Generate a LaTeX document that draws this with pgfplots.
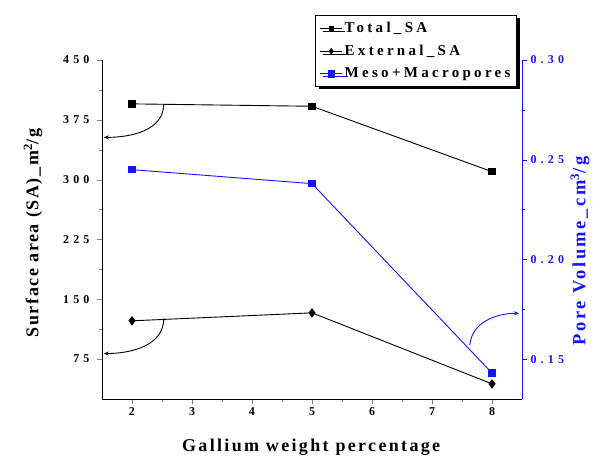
\documentclass[border=0pt]{standalone}
\usepackage{pgfplots}
\pgfplotsset{compat=1.18}
\usepackage{fontspec}
\setmainfont{Liberation Serif}
\newfontfamily\tickfont[LetterSpace=35]{Liberation Serif}
\newfontfamily\xlabelfont[LetterSpace=13]{Liberation Serif}
\newfontfamily\ylabelfont[LetterSpace=9]{Liberation Serif}
\newfontfamily\rlabelfont[LetterSpace=14]{Liberation Serif}
\newfontfamily\legendfont[LetterSpace=22]{Liberation Serif}
\usetikzlibrary{arrows.meta,shadows}

\definecolor{poreblue}{RGB}{20,20,255}

\pgfplotsset{
  common/.style={
    scale only axis,
    width=420pt, height=339pt,
    xmin=1.5, xmax=8.5,
    clip=false,
    tick align=outside,
    major tick length=5pt,
    minor tick length=3pt,
    /pgf/number format/assume math mode=true,
    tick label style={font=\tickfont\bfseries\fontsize{12}{14}\selectfont},
  }
}

\begin{document}
\begin{tikzpicture}
% surface areas on the left axis
\begin{axis}[common,
  axis x line*=bottom, axis y line*=left,
  ymin=25, ymax=450,
  ytick={75,150,225,300,375,450},
  minor y tick num=1,
  yticklabel style={xshift=-4pt},
  xtick={2,3,4,5,6,7,8},
  minor x tick num=1,
  xlabel={Gallium weight percentage},
  xlabel style={font=\xlabelfont\bfseries\fontsize{18}{21}\selectfont,
    at={(axis description cs:0.498,-0.142)}, anchor=center},
  ylabel={Surface area (SA)\_m\textsuperscript{2}/g},
  ylabel style={font=\ylabelfont\bfseries\fontsize{18}{21}\selectfont,
    at={(axis description cs:-0.164,0.49)}, anchor=center},
]
\addplot[black, line width=0.9pt, mark=square*, mark size=3.2pt]
  coordinates {(2,395) (5,392) (8,310)};
\addplot[black, line width=0.9pt, mark=diamond*, mark size=4pt]
  coordinates {(2,123) (5,133) (8,44)};
% pointers to the left axis
\draw[black, line width=0.9pt, -{Stealth[length=5pt,width=4pt]}]
  (axis cs:2.53,395) to[out=-90,in=0] (axis cs:1.53,353);
\draw[black, line width=0.9pt, -{Stealth[length=5pt,width=4pt]}]
  (axis cs:2.53,126) to[out=-90,in=0] (axis cs:1.53,82);
\end{axis}

% pore volume on the right axis
\begin{axis}[common,
  axis x line=none, axis y line*=right,
  y axis line style={poreblue, line width=0.9pt},
  ytick style={poreblue},
  yticklabel style={poreblue},
  ymin=0.13, ymax=0.30,
  ytick={0.15,0.20,0.25,0.30},
  minor y tick num=1,
  yticklabel style={/pgf/number format/.cd, fixed, fixed zerofill, precision=2},
  ylabel={Pore Volume\_cm\textsuperscript{3}/g},
  ylabel style={poreblue, font=\rlabelfont\bfseries\fontsize{18.5}{21}\selectfont,
    at={(axis description cs:1.138,0.437)}, anchor=center},
  legend style={at={(axis description cs:0.988,1.133)}, anchor=north east,
    draw=black, line width=0.9pt, fill=white,
    drop shadow={shadow xshift=3pt, shadow yshift=-3pt, fill=black, opacity=1},
    font=\legendfont\bfseries\fontsize{15}{17}\selectfont,
    row sep=7pt, inner xsep=4pt, inner ysep=5pt},
  legend cell align=left,
  legend image code/.code={
    \draw[mark repeat=2, mark phase=2, #1]
      plot coordinates {(0pt,0pt) (11pt,0pt) (22pt,0pt)};},
]
\addlegendimage{black, line width=0.9pt, mark=square*, mark size=2.2pt}
\addlegendentry{Total\_SA}
\addlegendimage{black, line width=0.9pt, mark=diamond*, mark size=2.6pt}
\addlegendentry{External\_SA}
\addplot[poreblue, line width=0.9pt, mark=square*, mark size=3.2pt]
  coordinates {(2,0.245) (5,0.238) (8,0.143)};
\addlegendentry{Meso+Macropores}
% pointer to the right axis
\draw[poreblue, line width=0.9pt, -{Stealth[length=5pt,width=4pt]}]
  (axis cs:7.63,0.157) to[out=85,in=180] (axis cs:8.45,0.173);
\end{axis}
\pgfresetboundingbox
\path (-102pt,-61pt) rectangle (502pt,399pt);
\end{tikzpicture}
\end{document}
